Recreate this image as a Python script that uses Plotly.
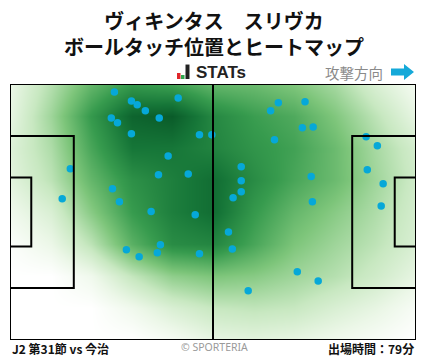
import plotly.graph_objects as go

# ---- data (pitch metres: x 0..105 attack to the right, y 0..68) ----
touch_x = [27.0, 43.5, 31.4, 32.9, 35.0, 26.2, 27.8, 38.6, 31.4, 49.0, 52.2, 40.9,
           38.4, 46.1, 15.6, 26.5, 13.5, 28.3, 36.5, 47.9, 38.9, 30.1, 38.1, 33.4,
           49.0, 69.4, 76.3, 67.4, 75.6, 78.4, 68.4, 92.1, 95.0, 59.8, 92.4, 59.8,
           77.9, 96.5, 59.8, 57.7, 78.2, 96.0, 56.5, 57.5, 74.3, 79.7, 61.6]
touch_y = [65.9, 64.3, 63.5, 62.5, 60.9, 59.0, 57.7, 59.0, 54.8, 54.5, 54.5, 48.9,
           43.9, 44.1, 45.5, 40.2, 37.5, 36.7, 34.1, 33.3, 25.3, 24.0, 23.2, 22.1,
           22.9, 63.0, 63.3, 60.9, 56.4, 56.6, 53.2, 54.0, 51.6, 46.0, 45.2, 42.3,
           43.4, 41.5, 39.4, 37.8, 36.7, 35.6, 28.7, 24.2, 18.1, 15.7, 13.1]

heat_x = [0, 10.5, 21, 31.5, 42, 52.5, 63, 73.5, 84, 94.5, 105]
heat_y = [0, 8.5, 17, 25.5, 34, 42.5, 51, 59.5, 68]
heat_z = [
    [0.00, 0.00, 0.00, 0.00, 0.05, 0.12, 0.14, 0.12, 0.08, 0.04, 0.00],
    [0.00, 0.00, 0.00, 0.08, 0.18, 0.25, 0.27, 0.25, 0.18, 0.12, 0.04],
    [0.00, 0.00, 0.08, 0.26, 0.40, 0.45, 0.42, 0.36, 0.30, 0.22, 0.12],
    [0.02, 0.10, 0.28, 0.55, 0.72, 0.75, 0.60, 0.45, 0.36, 0.28, 0.18],
    [0.08, 0.18, 0.42, 0.65, 0.78, 0.86, 0.66, 0.52, 0.42, 0.32, 0.20],
    [0.14, 0.28, 0.52, 0.70, 0.78, 0.86, 0.72, 0.60, 0.50, 0.36, 0.22],
    [0.16, 0.32, 0.60, 0.82, 0.82, 0.76, 0.68, 0.62, 0.50, 0.34, 0.20],
    [0.12, 0.36, 0.66, 0.90, 0.94, 0.74, 0.64, 0.58, 0.44, 0.28, 0.12],
    [0.10, 0.30, 0.52, 0.66, 0.62, 0.52, 0.50, 0.44, 0.34, 0.18, 0.06],
]

title_lines = ["ヴィキンタス　スリヴカ", "ボールタッチ位置とヒートマップ"]
match_label = "J2 第31節 vs 今治"
minutes_label = "出場時間：79分"
credit_label = "© SPORTERIA"
direction_label = "攻撃方向"

# ---- layout geometry ----
W, H = 428, 359
L, R, T, B = 10, 12, 84, 18.5
PW, PH = W - L - R, H - T - B


def px(xp):
    return (xp - L) / PW


def py(yp):
    return (H - B - yp) / PH


fig = go.Figure()

fig.add_trace(go.Heatmap(
    x=heat_x, y=heat_y, z=heat_z, zmin=0, zmax=1, zsmooth="best",
    showscale=False, hoverinfo="skip",
    colorscale=[[0.0, "rgb(255,255,255)"], [0.1, "rgb(236,247,232)"],
                [0.25, "rgb(200,232,193)"], [0.45, "rgb(125,197,122)"],
                [0.65, "rgb(55,155,78)"], [0.82, "rgb(22,118,56)"],
                [1.0, "rgb(4,78,34)"]],
))

fig.add_trace(go.Scatter(
    x=touch_x, y=touch_y, mode="markers",
    marker=dict(size=7.5, color="#06a8d8"), hoverinfo="skip",
))

line = dict(color="black", width=2)
shapes = [
    dict(type="rect", x0=0, x1=105, y0=0, y1=68, line=line),
    dict(type="line", x0=52.5, x1=52.5, y0=0, y1=68, line=line),
    dict(type="rect", x0=0, x1=16.5, y0=13.84, y1=54.16, line=line),
    dict(type="rect", x0=0, x1=5.5, y0=24.84, y1=43.16, line=line),
    dict(type="rect", x0=88.5, x1=105, y0=13.84, y1=54.16, line=line),
    dict(type="rect", x0=99.5, x1=105, y0=24.84, y1=43.16, line=line),
]
for s in shapes:
    s.update(xref="x", yref="y", layer="above")

# STATs logo bars
for (x0, x1, y0, col) in [(177, 180.5, 73, "#e0262b"), (181, 184.5, 75, "#2fa84f"),
                          (185.5, 189.5, 64.5, "#222222")]:
    shapes.append(dict(type="rect", xref="paper", yref="paper",
                       x0=px(x0), x1=px(x1), y0=py(79), y1=py(y0),
                       line=dict(width=0), fillcolor=col, layer="above"))

# direction arrow
pts = [(391, 68.5), (404, 68.5), (404, 64), (414, 72), (404, 80), (404, 75.5), (391, 75.5)]
path = "M " + " L ".join(f"{px(a):.5f},{py(b):.5f}" for a, b in pts) + " Z"
shapes.append(dict(type="path", xref="paper", yref="paper", path=path,
                   fillcolor="#15a9d9", line=dict(width=0), layer="above"))

cjk = "Noto Sans CJK JP"
ann = [
    dict(x=px(214), y=py(33), text=f"<b>{title_lines[0]}<br>{title_lines[1]}</b>",
         font=dict(size=20, color="#111", family=cjk)),
    dict(x=px(194), y=py(72.5), text="<b>STATs</b>", xanchor="left",
         font=dict(size=17, color="#222", family="Liberation Sans")),
    dict(x=px(385), y=py(72), text=direction_label, xanchor="right",
         font=dict(size=14.5, color="#8a8a8a", family=cjk)),
    dict(x=px(10), y=py(349), text=f"<b>{match_label}</b>", xanchor="left",
         font=dict(size=12, color="#111", family=cjk)),
    dict(x=px(214), y=py(348), text=credit_label,
         font=dict(size=10.5, color="#9a9a9a", family="Noto Sans")),
    dict(x=px(416), y=py(349), text=f"<b>{minutes_label}</b>", xanchor="right",
         font=dict(size=12, color="#111", family=cjk)),
]
for a in ann:
    a.update(xref="paper", yref="paper", showarrow=False)
    a.setdefault("xanchor", "center")
    a["yanchor"] = "middle"

fig.update_layout(
    width=W, height=H, margin=dict(l=L, r=R, t=T, b=B),
    paper_bgcolor="white", plot_bgcolor="white",
    showlegend=False, shapes=shapes, annotations=ann,
    xaxis=dict(range=[0, 105], visible=False, fixedrange=True),
    yaxis=dict(range=[0, 68], visible=False, fixedrange=True),
)

fig.write_html("out.html", config={"displayModeBar": False})
